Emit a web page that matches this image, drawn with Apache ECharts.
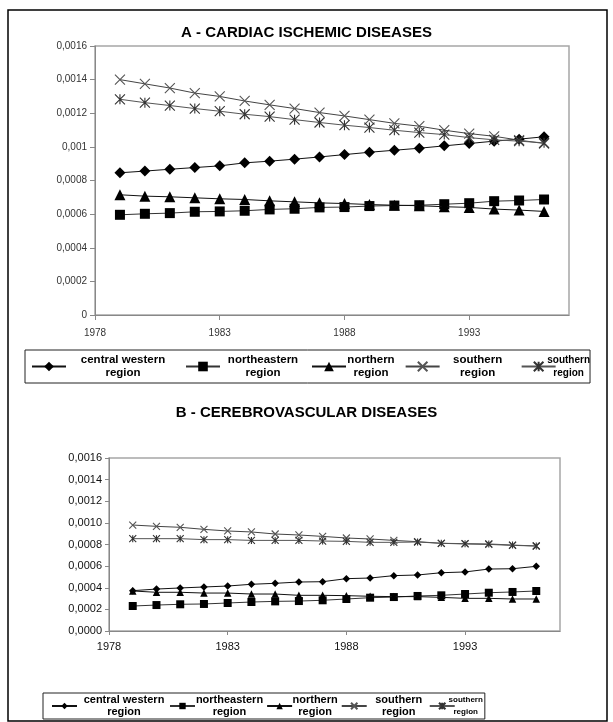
<!DOCTYPE html>
<html><head><meta charset="utf-8">
<script src="https://cdn.jsdelivr.net/npm/echarts@6/dist/echarts.min.js"></script>
<style>html,body{margin:0;padding:0;background:#fff}#c{width:613px;height:722px}</style>
</head><body><div id="c"></div>
<script>
// ---------- data ----------
const years = [1979,1980,1981,1982,1983,1984,1985,1986,1987,1988,1989,1990,1991,1992,1993,1994,1995,1996];

const titleA = 'A - CARDIAC ISCHEMIC DISEASES';
const titleB = 'B - CEREBROVASCULAR DISEASES';

const seriesNames = ['central western region','northeastern region','northern region','southern region','southern region (2)'];
const legendLines = [['central western','region'],['northeastern','region'],['northern','region'],['southern','region'],['southern','region']];

// A - cardiac ischemic diseases
const cwA  = [0.000846,0.000856,0.000867,0.000877,0.000887,0.000905,0.000915,0.000927,0.00094,0.000954,0.000968,0.00098,0.000992,0.001006,0.00102,0.001034,0.001046,0.00106];
const neA  = [0.000596,0.000602,0.000606,0.000614,0.000616,0.00062,0.000628,0.000632,0.00064,0.000642,0.000648,0.000651,0.000653,0.000659,0.000665,0.000677,0.000681,0.000687];
const nA   = [0.000715,0.000707,0.000703,0.000697,0.000691,0.000687,0.000679,0.000673,0.000667,0.000663,0.000657,0.000653,0.00065,0.000644,0.00064,0.00063,0.000624,0.000616];
const sA   = [0.0014,0.001375,0.00135,0.00132,0.0013,0.001273,0.00125,0.001228,0.001204,0.001184,0.001162,0.00114,0.001123,0.001099,0.001079,0.001063,0.00104,0.00102];
const s2A  = [0.001283,0.001263,0.001246,0.001228,0.001212,0.001194,0.00118,0.001162,0.001145,0.001129,0.001115,0.001099,0.001085,0.001073,0.001055,0.001042,0.001034,0.001024];

// B - cerebrovascular diseases
const cwB  = [0.000373,0.000388,0.000398,0.000407,0.000416,0.000432,0.000441,0.000453,0.000456,0.000484,0.00049,0.000512,0.000518,0.000539,0.000546,0.000573,0.000576,0.000598];
const neB  = [0.000231,0.00024,0.000247,0.00025,0.000259,0.000268,0.000274,0.000277,0.000284,0.000296,0.000308,0.000314,0.000324,0.00033,0.000342,0.000354,0.000361,0.00037];
const nB   = [0.00037,0.000358,0.000358,0.000351,0.000351,0.000342,0.000342,0.00033,0.00033,0.000327,0.000321,0.000318,0.000318,0.000311,0.000302,0.000302,0.000296,0.000296];
const sB   = [0.00098,0.000968,0.000959,0.00094,0.000925,0.000916,0.000897,0.000888,0.000875,0.00086,0.000851,0.000838,0.000826,0.000811,0.000805,0.000801,0.000792,0.000786];
const s2B  = [0.000854,0.000854,0.000854,0.000845,0.000845,0.000838,0.000838,0.000838,0.000832,0.000829,0.00082,0.00082,0.000823,0.000811,0.000808,0.000805,0.000795,0.000786];

const xMin = 1978, xMax = 1997, xStep = 5;
const yMin = 0, yMax = 0.0016, yStep = 0.0002;

// ---------- styles ----------
const FONT = 'Liberation Sans, Arial, sans-serif';
const X_PATH = 'path://M0,0L10,10M10,0L0,10';
const STAR_PATH = 'path://M0,0L10,10M10,0L0,10M5,0L5,10';
const symDefs = [
  {symbol:'diamond', fill:'#000', stroke:'#000', bw:0, line:'#111'},
  {symbol:'rect', fill:'#000', stroke:'#000', bw:0, line:'#333'},
  {symbol:'triangle', fill:'#000', stroke:'#000', bw:0, line:'#111'},
  {symbol:X_PATH, fill:'none', stroke:'#555', bw:1.1, line:'#444'},
  {symbol:STAR_PATH, fill:'none', stroke:'#333', bw:1.1, line:'#555'}
];
const sizesA = [11, 10, 11, 10, 10];
const sizesB = [7.5, 8, 7.5, 7, 7];

function pairs(vals){ return years.map((y,i)=>[y, vals[i]]); }

function mkSeries(gi, vals, idx, size){
  const d = symDefs[idx];
  return {
    type:'line', name: seriesNames[idx], xAxisIndex: gi, yAxisIndex: gi,
    data: pairs(vals), symbol: d.symbol, symbolSize: size, showAllSymbol: true,
    lineStyle:{color:d.line, width:1},
    itemStyle:{color:d.fill, borderColor:d.stroke, borderWidth:d.bw},
    emphasis:{disabled:true}, z: 2 + idx
  };
}

function legendFormatter(name){
  const i = seriesNames.indexOf(name);
  const l = legendLines[i];
  return '{w' + i + '|' + l[0] + '}\n{w' + i + '|' + l[1] + '}';
}
function mkRich(widths, fs, lastFs, lh){
  const r = {};
  widths.forEach((w,i)=>{
    r['w'+i] = {width:w, align:'center', fontSize: i===4 ? lastFs : fs, fontWeight:'bold', lineHeight: lh, color:'#000', fontFamily: FONT};
  });
  return r;
}

function xAxisCfg(gi, fs, col, margin, tickLen){
  return {
    gridIndex: gi, type:'value', min:xMin, max:xMax, interval:xStep,
    axisLine:{show:true, lineStyle:{color:'#888', width:1}},
    axisTick:{show:true, length:tickLen, lineStyle:{color:'#888'}},
    axisLabel:{show:true, color:col, fontSize:fs, fontFamily:FONT, margin:margin, showMaxLabel:false, formatter: v => String(v)},
    splitLine:{show:false}
  };
}
function yAxisCfg(gi, fs, col, fmt, tickLen){
  return {
    gridIndex: gi, type:'value', min:yMin, max:yMax, interval:yStep,
    axisLine:{show:true, lineStyle:{color:'#888', width:1}},
    axisTick:{show:true, length:tickLen, lineStyle:{color:'#888'}},
    axisLabel:{show:true, color:col, fontSize:fs, fontFamily:FONT, margin:tickLen+3, formatter:fmt},
    splitLine:{show:false}
  };
}
const fmtA = v => String(+v.toFixed(4)).replace('.', ',');
const fmtB = v => v.toFixed(4).replace('.', ',');

const chart = echarts.init(document.getElementById('c'), null, {renderer:'canvas'});
chart.setOption({
  animation:false,
  backgroundColor:'#fff',
  title:[
    {text:titleA, left:'center', top:25, padding:0, textStyle:{fontSize:15, fontWeight:'bold', color:'#000', fontFamily:FONT}},
    {text:titleB, left:'center', top:405, padding:0, textStyle:{fontSize:15, fontWeight:'bold', color:'#000', fontFamily:FONT}}
  ],
  grid:[
    {left:95, right:44, top:46, height:269, show:true, borderColor:'#a6a6a6', borderWidth:1.5, backgroundColor:'transparent', containLabel:false, outerBoundsMode:'none'},
    {left:109, right:53, top:458, height:173, show:true, borderColor:'#a6a6a6', borderWidth:1.5, backgroundColor:'transparent', containLabel:false, outerBoundsMode:'none'}
  ],
  xAxis:[ xAxisCfg(0, 10, '#333', 13, 5), xAxisCfg(1, 11, '#111', 10, 4) ],
  yAxis:[ yAxisCfg(0, 10, '#333', fmtA, 5), yAxisCfg(1, 11, '#111', fmtB, 4) ],
  legend:[
    {left:25, top:350, orient:'horizontal', itemWidth:34, itemHeight:12, itemGap:10,
     padding:[4,0,4,6], borderColor:'#222', borderWidth:1, selectedMode:false,
     data: seriesNames, formatter: legendFormatter,
     textStyle:{rich: mkRich([104,76,40,66,16], 11.5, 10, 13)}},
    {left:43, top:693, orient:'horizontal', itemWidth:25, itemHeight:8, itemGap:3,
     padding:[1.5,2,1.5,8], borderColor:'#222', borderWidth:1, selectedMode:false,
     data: seriesNames, formatter: legendFormatter,
     textStyle:{rich: mkRich([84,59,36,54,12], 11, 8, 12)}}
  ],
  graphic:[
    {type:'rect', silent:true, z:-1, shape:{x:8, y:10, width:599, height:711}, style:{fill:'none', stroke:'#000', lineWidth:1.5}}
  ],
  series:[
    mkSeries(0, cwA, 0, sizesA[0]),
    mkSeries(0, neA, 1, sizesA[1]),
    mkSeries(0, nA, 2, sizesA[2]),
    mkSeries(0, sA, 3, sizesA[3]),
    mkSeries(0, s2A, 4, sizesA[4]),
    mkSeries(1, cwB, 0, sizesB[0]),
    mkSeries(1, neB, 1, sizesB[1]),
    mkSeries(1, nB, 2, sizesB[2]),
    mkSeries(1, sB, 3, sizesB[3]),
    mkSeries(1, s2B, 4, sizesB[4])
  ]
});
</script></body></html>
